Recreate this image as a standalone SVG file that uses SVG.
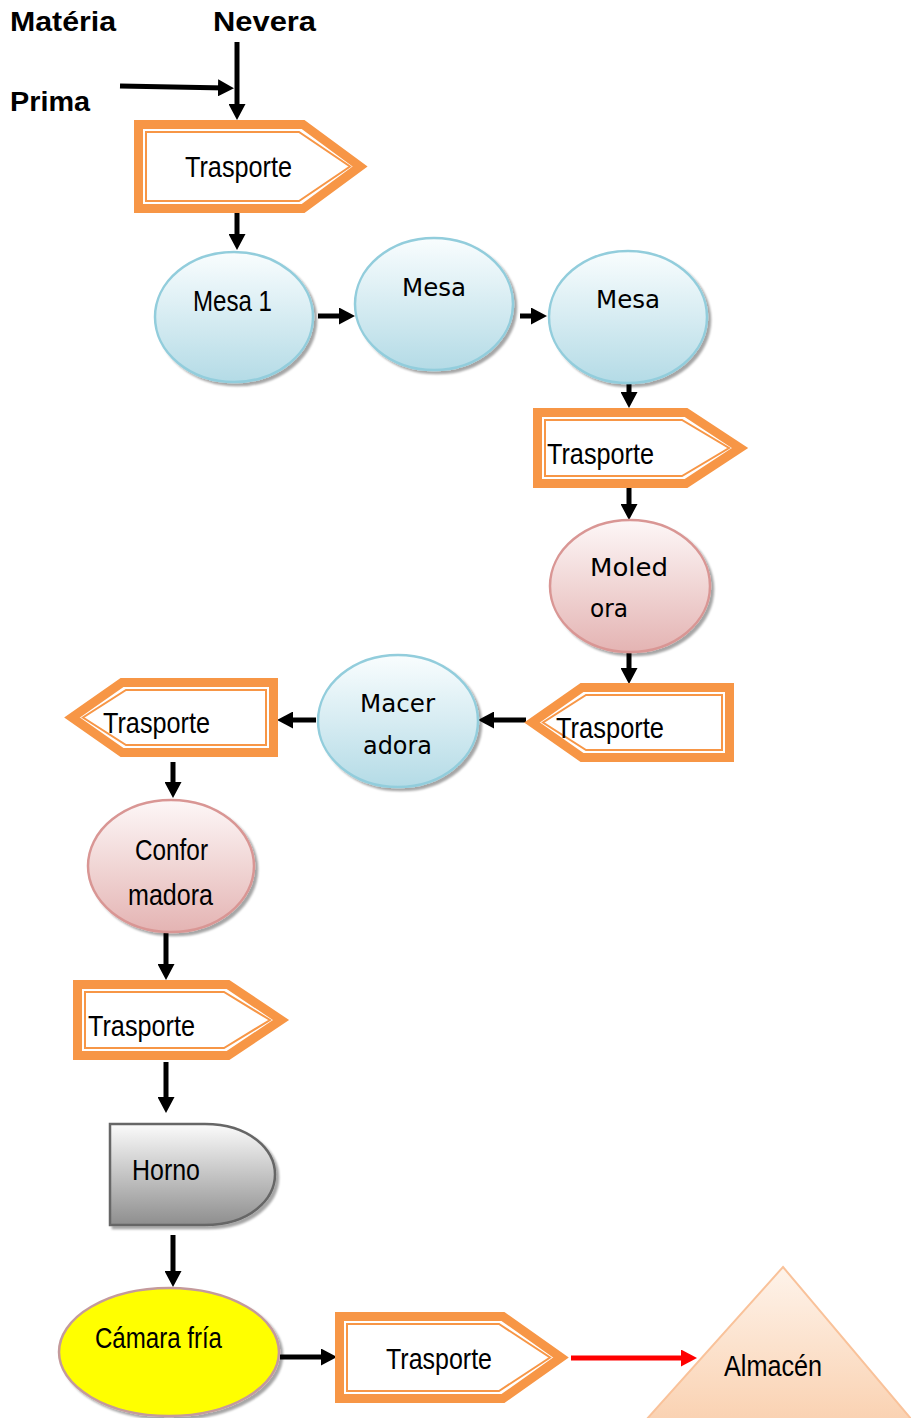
<svg xmlns="http://www.w3.org/2000/svg" width="911" height="1418" viewBox="0 0 911 1418">
  <defs>
    <style>
      .lbl { font-family: "Liberation Sans Narrow", "Liberation Sans", Arial, sans-serif; font-size: 29px; fill: #000; }
      .lbl2 { font-family: "DejaVu Sans", "Noto Sans", sans-serif; font-size: 25px; fill: #000; }
      .head { font-family: "Liberation Sans", Arial, sans-serif; font-size: 27px; font-weight: bold; fill: #000; }
      .outer { fill: #fff; stroke: #f79646; stroke-width: 9; stroke-linejoin: miter; }
      .inner { fill: none; stroke: #f79646; stroke-width: 2; }
      .blue { fill: url(#gBlue); stroke: #92cddc; stroke-width: 2.5; filter: url(#shadow); }
      .pink { fill: url(#gPink); stroke: #d99694; stroke-width: 2.5; filter: url(#shadow); }
      .arrow { fill: none; stroke: #000; stroke-width: 5; marker-end: url(#ah); }
      .arrow-red { fill: none; stroke: #ff0000; stroke-width: 5; marker-end: url(#ahRed); }
    </style>
    <linearGradient id="gBlue" x1="0" y1="0" x2="0" y2="1">
      <stop offset="0" stop-color="#f9fdfe"/>
      <stop offset="1" stop-color="#b4dbe6"/>
    </linearGradient>
    <linearGradient id="gPink" x1="0" y1="0" x2="0" y2="1">
      <stop offset="0" stop-color="#fdf7f7"/>
      <stop offset="1" stop-color="#e4b4b3"/>
    </linearGradient>
    <linearGradient id="gGrey" x1="0" y1="0" x2="0" y2="1">
      <stop offset="0" stop-color="#fbfbfb"/>
      <stop offset="1" stop-color="#8e8e8e"/>
    </linearGradient>
    <linearGradient id="gPeach" x1="0" y1="0" x2="0" y2="1">
      <stop offset="0" stop-color="#fef3ea"/>
      <stop offset="1" stop-color="#fad2b2"/>
    </linearGradient>
    <filter id="shadow" x="-10%" y="-10%" width="125%" height="130%">
      <feDropShadow dx="3" dy="3" stdDeviation="1.2" flood-color="#000" flood-opacity="0.35"/>
    </filter>
    <marker id="ah" viewBox="0 0 16 17" refX="8" refY="8.5" markerWidth="16" markerHeight="17" markerUnits="userSpaceOnUse" orient="auto">
      <path d="M0,0 L16,8.5 L0,17 Z" fill="#000"/>
    </marker>
    <marker id="ahRed" viewBox="0 0 16 17" refX="8" refY="8.5" markerWidth="16" markerHeight="17" markerUnits="userSpaceOnUse" orient="auto">
      <path d="M0,0 L16,8.5 L0,17 Z" fill="#ff0000"/>
    </marker>
  </defs>

  <rect width="911" height="1418" fill="#fff"/>

  <!-- headings -->
  <g id="inputs">
    <text class="head" x="10" y="31" textLength="106" lengthAdjust="spacingAndGlyphs">Matéria</text>
    <text class="head" x="213" y="31" textLength="103" lengthAdjust="spacingAndGlyphs">Nevera</text>
    <text class="head" x="10" y="111" textLength="80" lengthAdjust="spacingAndGlyphs">Prima</text>
  </g>

  <!-- connectors -->
  <g id="connectors">
    <path class="arrow" d="M237,42 V112"/>
    <path class="arrow" d="M120,86 L226,88"/>
    <path class="arrow" d="M237,213 V242"/>
    <path class="arrow" d="M318,316 H347"/>
    <path class="arrow" d="M520,316 H539"/>
    <path class="arrow" d="M629,381 V400"/>
    <path class="arrow" d="M629,488 V512"/>
    <path class="arrow" d="M629,650 V676"/>
    <path class="arrow" d="M526,720 H486"/>
    <path class="arrow" d="M316,720 H285"/>
    <path class="arrow" d="M173,762 V790"/>
    <path class="arrow" d="M166,932 V972"/>
    <path class="arrow" d="M166,1062 V1105"/>
    <path class="arrow" d="M173,1235 V1279"/>
    <path class="arrow" d="M280,1357 H329"/>
    <path class="arrow-red" d="M571,1358 H689"/>
  </g>

  <!-- transport 1 -->
  <g id="trasporte1">
    <path class="outer" d="M138.5,124.5 H303 L360,166.5 L303,208.5 H138.5 Z"/>
    <path class="inner" d="M146,132 H299 L350,166.5 L299,201 H146 Z"/>
    <text class="lbl" x="185" y="177" textLength="107" lengthAdjust="spacingAndGlyphs">Trasporte</text>
  </g>

  <g id="mesa1">
    <ellipse class="blue" cx="234" cy="317" rx="79" ry="65"/>
    <text class="lbl" x="193" y="311" textLength="79" lengthAdjust="spacingAndGlyphs">Mesa 1</text>
  </g>

  <g id="mesa2">
    <ellipse class="blue" cx="434" cy="304" rx="79" ry="66"/>
    <text class="lbl2" x="402" y="296" textLength="64" lengthAdjust="spacingAndGlyphs">Mesa</text>
  </g>

  <g id="mesa3">
    <ellipse class="blue" cx="628" cy="317" rx="79" ry="66"/>
    <text class="lbl2" x="596" y="308" textLength="64" lengthAdjust="spacingAndGlyphs">Mesa</text>
  </g>

  <g id="trasporte2">
    <path class="outer" d="M537.5,412.5 H686 L740,448 L686,483.5 H537.5 Z"/>
    <path class="inner" d="M545,420 H682 L729,448 L682,476 H545 Z"/>
    <text class="lbl" x="547" y="464" textLength="107" lengthAdjust="spacingAndGlyphs">Trasporte</text>
  </g>

  <g id="moledora">
    <ellipse class="pink" cx="630" cy="586" rx="80" ry="66"/>
    <text class="lbl2" x="590" y="576" textLength="78" lengthAdjust="spacingAndGlyphs">Moled</text>
    <text class="lbl2" x="590" y="617" textLength="38" lengthAdjust="spacingAndGlyphs">ora</text>
  </g>

  <g id="trasporte3">
    <path class="outer" d="M729.5,687.5 H582 L532,722.5 L582,757.5 H729.5 Z"/>
    <path class="inner" d="M722,695 H586 L543,722.5 L586,750 H722 Z"/>
    <text class="lbl" x="556" y="738" textLength="108" lengthAdjust="spacingAndGlyphs">Trasporte</text>
  </g>

  <g id="maceradora">
    <ellipse class="blue" cx="398" cy="721" rx="80" ry="66"/>
    <text class="lbl2" x="360" y="712" textLength="75" lengthAdjust="spacingAndGlyphs">Macer</text>
    <text class="lbl2" x="363" y="754" textLength="69" lengthAdjust="spacingAndGlyphs">adora</text>
  </g>

  <g id="trasporte4">
    <path class="outer" d="M273.5,682.5 H122 L72,717.5 L122,752.5 H273.5 Z"/>
    <path class="inner" d="M266,690 H126 L83,717.5 L126,745 H266 Z"/>
    <text class="lbl" x="103" y="733" textLength="107" lengthAdjust="spacingAndGlyphs">Trasporte</text>
  </g>

  <g id="conformadora">
    <ellipse class="pink" cx="171" cy="866" rx="83" ry="66"/>
    <text class="lbl" x="135" y="860" textLength="73" lengthAdjust="spacingAndGlyphs">Confor</text>
    <text class="lbl" x="128" y="905" textLength="85" lengthAdjust="spacingAndGlyphs">madora</text>
  </g>

  <g id="trasporte5">
    <path class="outer" d="M77.5,984.5 H228 L281,1020 L228,1055.5 H77.5 Z"/>
    <path class="inner" d="M85,992 H224 L270,1020 L224,1048 H85 Z"/>
    <text class="lbl" x="88" y="1036" textLength="107" lengthAdjust="spacingAndGlyphs">Trasporte</text>
  </g>

  <g id="horno">
    <path d="M110,1124 H205 C250,1124 275,1150 275,1174.5 C275,1199 250,1225 205,1225 H110 Z" fill="url(#gGrey)" stroke="#666" stroke-width="2.5" filter="url(#shadow)"/>
    <text class="lbl" x="132" y="1180" textLength="68" lengthAdjust="spacingAndGlyphs">Horno</text>
  </g>

  <g id="camara-fria">
    <ellipse cx="169" cy="1352" rx="110" ry="64" fill="#ffff00" stroke="#c49a9c" stroke-width="2.5" filter="url(#shadow)"/>
    <text class="lbl" x="95" y="1348" textLength="127" lengthAdjust="spacingAndGlyphs">Cámara fría</text>
  </g>

  <g id="trasporte6">
    <path class="outer" d="M339.5,1316.5 H503 L561,1357.5 L503,1398.5 H339.5 Z"/>
    <path class="inner" d="M347,1324 H499 L550,1357.5 L499,1391 H347 Z"/>
    <text class="lbl" x="386" y="1369" textLength="106" lengthAdjust="spacingAndGlyphs">Trasporte</text>
  </g>

  <g id="almacen">
    <path d="M783,1267 L912,1420 L646,1420 Z" fill="url(#gPeach)" stroke="#f9c29a" stroke-width="2"/>
    <text class="lbl" x="724" y="1376" textLength="98" lengthAdjust="spacingAndGlyphs">Almacén</text>
  </g>
</svg>
